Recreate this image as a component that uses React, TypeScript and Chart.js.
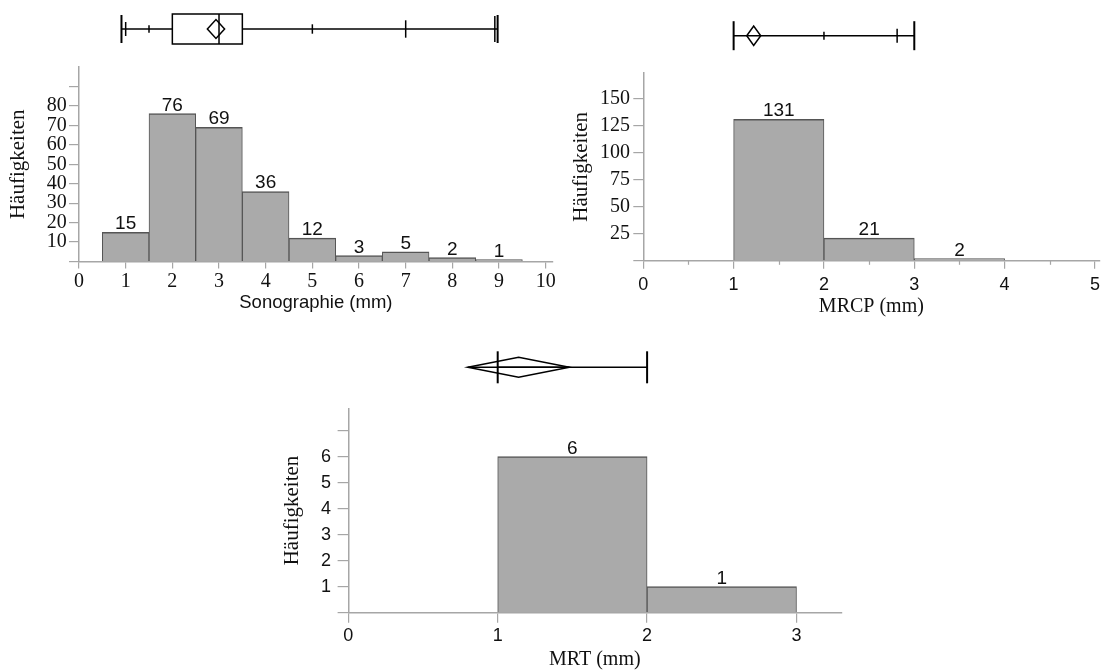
import React, { useEffect, useRef } from 'react';
import { Chart, registerables } from 'chart.js';
Chart.register(...registerables);

const SERIF = '"Liberation Serif", "Times New Roman", serif';
const SANS = '"Liberation Sans", Arial, sans-serif';
const AXIS_GRAY = '#a6a6a6';
const BAR_FILL = '#aaaaaa';
const BAR_EDGE = '#555555';
const CW = 1200;
const CH = 720;

// ---------- Sonographie ----------
const sonoBinCenters = [1, 2, 3, 4, 5, 6, 7, 8, 9];
const sonoCounts = [15, 76, 69, 36, 12, 3, 5, 2, 1];
const sonoXTicks = [0, 1, 2, 3, 4, 5, 6, 7, 8, 9, 10];
const sonoXTickLabels = ['0', '1', '2', '3', '4', '5', '6', '7', '8', '9', '10'];
const sonoYTicks = [0, 10, 20, 30, 40, 50, 60, 70, 80, 90];
const sonoYTickLabels = ['', '10', '20', '30', '40', '50', '60', '70', '80', ''];
const sonoBox = [2.0, 3.0, 3.5]; // Q1, median, Q3
const sonoWhisker = [0.91, 8.97];
const sonoQuantileMarks = [1.0, 1.5, 5.0, 7.0, 8.91];
const sonoMean = [2.75, 2.935, 3.12]; // lower, mean, upper

// ---------- MRCP ----------
const mrcpBinCenters = [1.5, 2.5, 3.5];
const mrcpCounts = [131, 21, 2];
const mrcpXTicks = [0, 1, 2, 3, 4, 5];
const mrcpXTickLabels = ['0', '1', '2', '3', '4', '5'];
const mrcpMinorTicks = [0.5, 1.5, 2.5, 3.5, 4.5];
const mrcpYTicks = [0, 25, 50, 75, 100, 125, 150];
const mrcpYTickLabels = ['', '25', '50', '75', '100', '125', '150'];
const mrcpWhisker = [1.0, 3.0];
const mrcpQuantileMarks = [2.0, 2.81];
const mrcpMean = [1.145, 1.222, 1.3];

// ---------- MRT ----------
const mrtBinCenters = [1.5, 2.5];
const mrtCounts = [6, 1];
const mrtXTicks = [0, 1, 2, 3];
const mrtXTickLabels = ['0', '1', '2', '3'];
const mrtYTicks = [0, 1, 2, 3, 4, 5, 6, 7];
const mrtYTickLabels = ['', '1', '2', '3', '4', '5', '6', ''];
const mrtWhisker = [1.0, 2.0];
const mrtMean = [0.8, 1.14, 1.48];

type BoxSpec = {
  yc: number;
  box?: number[];
  boxHalf?: number;
  whisker: number[];
  endHalf: number;
  marks: number[];
  markHalf: number[];
  mean: number[];
  meanHalf: number;
  meanLine?: boolean;
};

type Spec = {
  centers: number[];
  counts: number[];
  xMin: number; xMax: number;
  yMax: number;
  xTicks: number[]; xTickLabels: string[];
  yTicks: number[]; yTickLabels: string[];
  area: { left: number; right: number; top: number; bottom: number };
  yAxisWidth: number; xAxisHeight: number;
  xTickFont: any; yTickFont: any;
  xTickLen: number; yTickLen: number;
  xTickPad: number; yTickPad: number;
  xTitle: string; xTitleFont: any; xTitlePadBottom: number;
  yTitleFont: any; yTitlePadTop: number;
  barLabelFont: string;
  minor?: number[];
  boxplot: BoxSpec;
};

function makeConfig(s: Spec): any {
  const boxPlugin = {
    id: 'boxplot',
    afterDraw(chart: any) {
      const ctx = chart.ctx;
      const xs = chart.scales.x;
      const b = s.boxplot;
      const px = (v: number) => xs.getPixelForValue(v);
      ctx.save();
      ctx.strokeStyle = '#000';
      ctx.lineWidth = 1.5;
      const line = (x1: number, y1: number, x2: number, y2: number) => {
        ctx.beginPath(); ctx.moveTo(x1, y1); ctx.lineTo(x2, y2); ctx.stroke();
      };
      if (b.box) {
        line(px(b.whisker[0]), b.yc, px(b.box[0]), b.yc);
        line(px(b.box[2]), b.yc, px(b.whisker[1]), b.yc);
        const h = b.boxHalf || 15;
        ctx.strokeRect(px(b.box[0]), b.yc - h, px(b.box[2]) - px(b.box[0]), 2 * h);
        line(px(b.box[1]), b.yc - h, px(b.box[1]), b.yc + h);
      } else {
        line(px(b.whisker[0]), b.yc, px(b.whisker[1]), b.yc);
      }
      ctx.lineWidth = 2;
      b.whisker.forEach((v) => line(px(v), b.yc - b.endHalf, px(v), b.yc + b.endHalf));
      ctx.lineWidth = 1.5;
      b.marks.forEach((v, i) => line(px(v), b.yc - b.markHalf[i], px(v), b.yc + b.markHalf[i]));
      const [lo, m, hi] = b.mean;
      ctx.beginPath();
      ctx.moveTo(px(lo), b.yc);
      ctx.lineTo(px(m), b.yc - b.meanHalf);
      ctx.lineTo(px(hi), b.yc);
      ctx.lineTo(px(m), b.yc + b.meanHalf);
      ctx.closePath();
      ctx.stroke();
      if (b.meanLine) line(px(lo), b.yc, px(hi), b.yc);
      ctx.restore();
    },
  };
  const labelPlugin = {
    id: 'barLabels',
    afterDatasetsDraw(chart: any) {
      const ctx = chart.ctx;
      const meta = chart.getDatasetMeta(0);
      ctx.save();
      ctx.font = s.barLabelFont;
      ctx.fillStyle = '#111';
      ctx.textAlign = 'center';
      ctx.textBaseline = 'alphabetic';
      meta.data.forEach((el: any, i: number) => {
        ctx.fillText(String(s.counts[i]), el.x, el.y - 3);
      });
      ctx.restore();
    },
  };
  const minorPlugin = {
    id: 'minorTicks',
    afterDraw(chart: any) {
      if (!s.minor) return;
      const ctx = chart.ctx;
      const xs = chart.scales.x;
      ctx.save();
      ctx.strokeStyle = AXIS_GRAY;
      ctx.lineWidth = 1.2;
      s.minor.forEach((v) => {
        const x = Math.round(xs.getPixelForValue(v)) + 0.5;
        ctx.beginPath(); ctx.moveTo(x, xs.top); ctx.lineTo(x, xs.top + 4); ctx.stroke();
      });
      ctx.restore();
    },
  };

  return {
    type: 'bar',
    data: {
      datasets: [
        {
          data: s.centers.map((x, i) => ({ x, y: s.counts[i] })),
          backgroundColor: BAR_FILL,
          borderColor: BAR_EDGE,
          borderWidth: { top: 1.5, left: 1, right: 1, bottom: 0 },
          borderSkipped: 'start',
          barPercentage: 1,
          categoryPercentage: 1,
        },
      ],
    },
    options: {
      responsive: false,
      animation: false,
      devicePixelRatio: 1,
      layout: {
        padding: {
          left: s.area.left - s.yAxisWidth,
          top: s.area.top,
          right: CW - s.area.right,
          bottom: CH - s.area.bottom - s.xAxisHeight,
        },
      },
      plugins: { legend: { display: false }, tooltip: { enabled: false } },
      scales: {
        x: {
          type: 'linear',
          min: s.xMin,
          max: s.xMax,
          offset: false,
          afterBuildTicks: (sc: any) => { sc.ticks = s.xTicks.map((v) => ({ value: v })); },
          afterFit: (sc: any) => { sc.height = s.xAxisHeight; },
          ticks: {
            autoSkip: false,
            maxRotation: 0,
            padding: s.xTickPad,
            font: s.xTickFont,
            color: '#111',
            callback: (v: number) => { const i = s.xTicks.indexOf(v); return i >= 0 ? s.xTickLabels[i] : ''; },
          },
          grid: { offset: false, drawOnChartArea: false, tickLength: s.xTickLen, color: AXIS_GRAY, lineWidth: 1.2 },
          border: { color: AXIS_GRAY, width: 1.5 },
          title: { display: true, text: s.xTitle, font: s.xTitleFont, color: '#111', padding: { top: 0, bottom: s.xTitlePadBottom } },
        },
        y: {
          type: 'linear',
          min: 0,
          max: s.yMax,
          afterBuildTicks: (sc: any) => { sc.ticks = s.yTicks.map((v) => ({ value: v })); },
          afterFit: (sc: any) => { sc.width = s.yAxisWidth; },
          ticks: {
            autoSkip: false,
            padding: s.yTickPad,
            font: s.yTickFont,
            color: '#111',
            callback: (v: number) => { const i = s.yTicks.indexOf(v); return i >= 0 ? s.yTickLabels[i] : ''; },
          },
          grid: { drawOnChartArea: false, tickLength: s.yTickLen, color: AXIS_GRAY, lineWidth: 1.2 },
          border: { color: AXIS_GRAY, width: 1.5 },
          title: { display: true, text: 'Häufigkeiten', font: s.yTitleFont, color: '#111', padding: { top: s.yTitlePadTop, bottom: 0 } },
        },
      },
    },
    plugins: [boxPlugin, labelPlugin, minorPlugin],
  };
}

const specs: Spec[] = [
  {
    centers: sonoBinCenters, counts: sonoCounts,
    xMin: 0, xMax: 10.15, yMax: 100,
    xTicks: sonoXTicks, xTickLabels: sonoXTickLabels,
    yTicks: sonoYTicks, yTickLabels: sonoYTickLabels,
    area: { left: 79, right: 79 + 10.15 * 46.67, top: 67, bottom: 261.5 },
    yAxisWidth: 79, xAxisHeight: 58.5,
    xTickFont: { family: SERIF, size: 20 }, yTickFont: { family: SERIF, size: 20 },
    xTickLen: 7, yTickLen: 10, xTickPad: 1.2, yTickPad: 2.3,
    xTitle: 'Sonographie (mm)', xTitleFont: { family: SANS, size: 18.5 }, xTitlePadBottom: 5.9,
    yTitleFont: { family: SERIF, size: 21 }, yTitlePadTop: 5.7,
    barLabelFont: `19px ${SANS}`,
    boxplot: {
      yc: 29, box: sonoBox, boxHalf: 15, whisker: sonoWhisker, endHalf: 14,
      marks: sonoQuantileMarks, markHalf: [7, 3.7, 4.7, 8.7, 13],
      mean: sonoMean, meanHalf: 9.5,
    },
  },
  {
    centers: mrcpBinCenters, counts: mrcpCounts,
    xMin: 0, xMax: 5.05, yMax: 174,
    xTicks: mrcpXTicks, xTickLabels: mrcpXTickLabels,
    yTicks: mrcpYTicks, yTickLabels: mrcpYTickLabels,
    area: { left: 643.3, right: 643.3 + 5.05 * 90.33, top: 260.8 - 174 * 1.08, bottom: 260.8 },
    yAxisWidth: 74, xAxisHeight: 59.2,
    xTickFont: { family: SANS, size: 18 }, yTickFont: { family: SERIF, size: 20 },
    xTickLen: 8, yTickLen: 10, xTickPad: 5.4, yTickPad: 3.3,
    xTitle: 'MRCP (mm)', xTitleFont: { family: SERIF, size: 20 }, xTitlePadBottom: 1.3,
    yTitleFont: { family: SERIF, size: 21 }, yTitlePadTop: 0,
    barLabelFont: `19px ${SANS}`,
    minor: mrcpMinorTicks,
    boxplot: {
      yc: 35.7, whisker: mrcpWhisker, endHalf: 14.5,
      marks: mrcpQuantileMarks, markHalf: [4, 7],
      mean: mrcpMean, meanHalf: 9.7,
    },
  },
  {
    centers: mrtBinCenters, counts: mrtCounts,
    xMin: 0, xMax: 3.3, yMax: 7.86,
    xTicks: mrtXTicks, xTickLabels: mrtXTickLabels,
    yTicks: mrtYTicks, yTickLabels: mrtYTickLabels,
    area: { left: 348.3, right: 348.3 + 3.3 * 149.4, top: 612.7 - 7.86 * 26, bottom: 612.7 },
    yAxisWidth: 70, xAxisHeight: 60,
    xTickFont: { family: SANS, size: 18 }, yTickFont: { family: SANS, size: 18 },
    xTickLen: 10, yTickLen: 10.7, xTickPad: 2.9, yTickPad: 6.6,
    xTitle: 'MRT (mm)', xTitleFont: { family: SERIF, size: 20 }, xTitlePadBottom: 0.7,
    yTitleFont: { family: SERIF, size: 21 }, yTitlePadTop: 1.1,
    barLabelFont: `19px ${SANS}`,
    boxplot: {
      yc: 367.3, whisker: mrtWhisker, endHalf: 16,
      marks: [], markHalf: [],
      mean: mrtMean, meanHalf: 10, meanLine: true,
    },
  },
];

function ChartCanvas({ spec }: { spec: Spec }) {
  const ref = useRef<HTMLCanvasElement>(null);
  useEffect(() => {
    const chart = new Chart(ref.current as HTMLCanvasElement, makeConfig(spec));
    return () => chart.destroy();
  }, [spec]);
  return (
    <canvas
      ref={ref}
      width={CW}
      height={CH}
      style={{ position: 'absolute', left: 0, top: 0, width: CW, height: CH }}
    />
  );
}

export default function App() {
  return (
    <div
      style={{
        position: 'fixed', left: 0, top: 0, width: 1103, height: 671,
        overflow: 'hidden', background: '#ffffff',
      }}
    >
      {specs.map((s, i) => (
        <ChartCanvas key={i} spec={s} />
      ))}
    </div>
  );
}
